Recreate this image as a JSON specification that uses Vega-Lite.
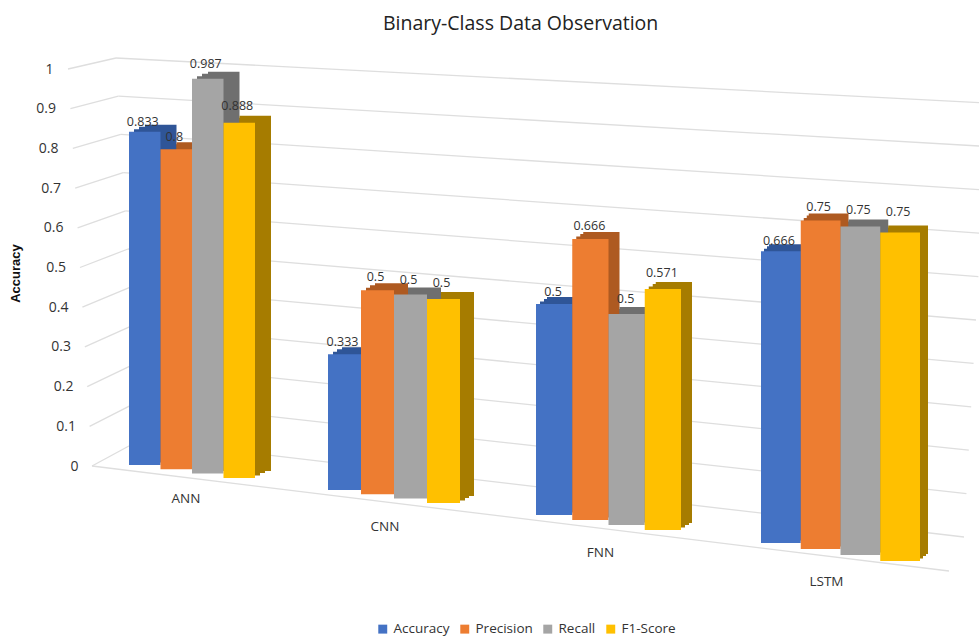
{"$schema":"https://vega.github.io/schema/vega-lite/v6.json","width":979,"height":640,"autosize":"none","padding":0,"background":"white",
"title":{"text":"Binary-Class Data Observation","font":"Open Sans","fontSize":19.5,"fontWeight":"normal","color":"#222222","anchor":"start","frame":"group","offset":-34,"dx":383},
"config":{"view":{"stroke":null},"font":"Open Sans"},
"datasets":{"scores":[
{"model":"ANN","metric":"Accuracy","value":0.833},{"model":"ANN","metric":"Precision","value":0.8},{"model":"ANN","metric":"Recall","value":0.987},{"model":"ANN","metric":"F1-Score","value":0.888},
{"model":"CNN","metric":"Accuracy","value":0.333},{"model":"CNN","metric":"Precision","value":0.5},{"model":"CNN","metric":"Recall","value":0.5},{"model":"CNN","metric":"F1-Score","value":0.5},
{"model":"FNN","metric":"Accuracy","value":0.5},{"model":"FNN","metric":"Precision","value":0.666},{"model":"FNN","metric":"Recall","value":0.5},{"model":"FNN","metric":"F1-Score","value":0.571},
{"model":"LSTM","metric":"Accuracy","value":0.666},{"model":"LSTM","metric":"Precision","value":0.75},{"model":"LSTM","metric":"Recall","value":0.75},{"model":"LSTM","metric":"F1-Score","value":0.75}],
"levels":[{"level":0},{"level":0.1},{"level":0.2},{"level":0.3},{"level":0.4},{"level":0.5},{"level":0.6},{"level":0.7},{"level":0.8},{"level":0.9},{"level":1}]},
"data":{"name":"scores"},
"layer":[
{"data":{"name":"levels"},"mark":{"type":"rule","color":"#dedede","strokeWidth":1.3,"xOffset":{"expr":"(1-datum.level)*24"},"x2Offset":{"expr":"-(1-datum.level)*24"},"y2Offset":{"expr":"45+(1-datum.level)*52"}},
 "encoding":{"x":{"datum":0,"type":"quantitative","axis":null,"scale":{"domain":[0,1],"range":[116,988]}},"x2":{"datum":1},
 "y":{"field":"level","type":"quantitative","axis":null,"scale":{"domain":[0,1],"range":[440,58]}},"y2":{"field":"level"}}},
{"data":{"name":"levels"},"mark":{"type":"rule","color":"#dedede","strokeWidth":1.3,"xOffset":{"expr":"(1-datum.level)*24"},"x2Offset":{"expr":"(1-datum.level)*24"},"y2Offset":{"expr":"-(11+(1-datum.level)*15)"}},
 "encoding":{"x":{"datum":0,"type":"quantitative","axis":null,"scale":{"domain":[0,1],"range":[68,116]}},"x2":{"datum":1},
 "y":{"field":"level","type":"quantitative","axis":{"orient":"left","offset":-82,"domain":false,"ticks":false,"grid":false,"values":[0,0.1,0.2,0.3,0.4,0.5,0.6,0.7,0.8,0.9,1],"format":"~g","labelFontSize":14,"labelColor":"#333333","labelPadding":4,"title":"Accuracy","titleFontSize":13,"titleFontWeight":"bold","titleColor":"#111111","titleFont":"Liberation Sans","titleX":-60,"titleY":273,"labelFont":"Open Sans","encoding":{"labels":{"dx":{"value":{"expr":"-25*datum.value"}}}}},"scale":{"domain":[0,1],"range":[466,69]}},"y2":{"field":"level"}}},
{"data":{"values":[{"level":0}]},"mark":{"type":"rule","color":"#dedede","strokeWidth":1.3,"y2Offset":105},
 "encoding":{"x":{"datum":0,"type":"quantitative","axis":null,"scale":{"domain":[0,1],"range":[92,949]}},"x2":{"datum":1},
 "y":{"field":"level","type":"quantitative","axis":null,"scale":{"domain":[0,1],"range":[466,69]}},"y2":{"field":"level"}}},
{"transform":[{"filter":"datum.model==='ANN'"}],
 "encoding":{"x":{"field":"metric","type":"nominal","axis":null,"scale":{"domain":["Accuracy","Precision","Recall","F1-Score"],"range":[129,255],"paddingInner":0,"paddingOuter":0}},
 "y":{"field":"value","type":"quantitative","axis":null,"stack":null,"scale":{"domain":[0,1],"range":[465,65]}},"y2":{"datum":0}},
 "layer":[
 {"mark":{"type":"bar","xOffset":5,"x2Offset":5,"yOffset":{"expr":"indexof(['Accuracy','Precision','Recall','F1-Score'],datum.metric)*4.3-2.5"},"y2Offset":{"expr":"indexof(['Accuracy','Precision','Recall','F1-Score'],datum.metric)*4.3-2.5"},"color":{"expr":"{'Accuracy':'#2f5597','Precision':'#ae5a21','Recall':'#6f6f6f','F1-Score':'#a67c00'}[datum.metric]"}}},
 {"mark":{"type":"bar","xOffset":10,"x2Offset":10,"yOffset":{"expr":"indexof(['Accuracy','Precision','Recall','F1-Score'],datum.metric)*4.3-5"},"y2Offset":{"expr":"indexof(['Accuracy','Precision','Recall','F1-Score'],datum.metric)*4.3-5"},"color":{"expr":"{'Accuracy':'#2f5597','Precision':'#ae5a21','Recall':'#6f6f6f','F1-Score':'#a67c00'}[datum.metric]"}}},
 {"mark":{"type":"bar","xOffset":16,"x2Offset":16,"yOffset":{"expr":"indexof(['Accuracy','Precision','Recall','F1-Score'],datum.metric)*4.3-7"},"y2Offset":{"expr":"indexof(['Accuracy','Precision','Recall','F1-Score'],datum.metric)*4.3-7"},"color":{"expr":"{'Accuracy':'#2f5597','Precision':'#ae5a21','Recall':'#6f6f6f','F1-Score':'#a67c00'}[datum.metric]"}}},
 {"mark":{"type":"bar","yOffset":{"expr":"indexof(['Accuracy','Precision','Recall','F1-Score'],datum.metric)*4.3"},"y2Offset":{"expr":"indexof(['Accuracy','Precision','Recall','F1-Score'],datum.metric)*4.3"}},"encoding":{"color":{"field":"metric","type":"nominal","scale":{"domain":["Accuracy","Precision","Recall","F1-Score"],"range":["#4472c4","#ed7d31","#a5a5a5","#ffc000"]},"legend":{"orient":"none","legendX":376,"legendY":622,"direction":"horizontal","title":null,"symbolType":"square","symbolSize":80,"symbolStrokeWidth":0,"labelFontSize":13.5,"labelColor":"#333333","columnPadding":8,"labelFont":"Open Sans"}}}},
 {"mark":{"type":"text","fontSize":12.5,"color":"#333333","dx":-2,"yOffset":{"expr":"indexof(['Accuracy','Precision','Recall','F1-Score'],datum.metric)*2-10"}},"encoding":{"y2":null,"text":{"field":"value","type":"quantitative"}}},
 {"mark":{"type":"text","fontSize":13.5,"color":"#333333","dx":-6},"transform":[{"filter":"datum.metric==='Recall'"}],"encoding":{"x":{"field":"metric","type":"nominal","bandPosition":0},"y":{"datum":-0.085},"y2":null,"text":{"field":"model","type":"nominal"}}}
 ]},
{"transform":[{"filter":"datum.model==='CNN'"}],
 "encoding":{"x":{"field":"metric","type":"nominal","axis":null,"scale":{"domain":["Accuracy","Precision","Recall","F1-Score"],"range":[328,460],"paddingInner":0,"paddingOuter":0}},
 "y":{"field":"value","type":"quantitative","axis":null,"stack":null,"scale":{"domain":[0,1],"range":[490,82]}},"y2":{"datum":0}},
 "layer":[
 {"mark":{"type":"bar","xOffset":5,"x2Offset":5,"yOffset":{"expr":"indexof(['Accuracy','Precision','Recall','F1-Score'],datum.metric)*4.3-2.5"},"y2Offset":{"expr":"indexof(['Accuracy','Precision','Recall','F1-Score'],datum.metric)*4.3-2.5"},"color":{"expr":"{'Accuracy':'#2f5597','Precision':'#ae5a21','Recall':'#6f6f6f','F1-Score':'#a67c00'}[datum.metric]"}}},
 {"mark":{"type":"bar","xOffset":9,"x2Offset":9,"yOffset":{"expr":"indexof(['Accuracy','Precision','Recall','F1-Score'],datum.metric)*4.3-5"},"y2Offset":{"expr":"indexof(['Accuracy','Precision','Recall','F1-Score'],datum.metric)*4.3-5"},"color":{"expr":"{'Accuracy':'#2f5597','Precision':'#ae5a21','Recall':'#6f6f6f','F1-Score':'#a67c00'}[datum.metric]"}}},
 {"mark":{"type":"bar","xOffset":14,"x2Offset":14,"yOffset":{"expr":"indexof(['Accuracy','Precision','Recall','F1-Score'],datum.metric)*4.3-7"},"y2Offset":{"expr":"indexof(['Accuracy','Precision','Recall','F1-Score'],datum.metric)*4.3-7"},"color":{"expr":"{'Accuracy':'#2f5597','Precision':'#ae5a21','Recall':'#6f6f6f','F1-Score':'#a67c00'}[datum.metric]"}}},
 {"mark":{"type":"bar","yOffset":{"expr":"indexof(['Accuracy','Precision','Recall','F1-Score'],datum.metric)*4.3"},"y2Offset":{"expr":"indexof(['Accuracy','Precision','Recall','F1-Score'],datum.metric)*4.3"}},"encoding":{"color":{"field":"metric","type":"nominal"}}},
 {"mark":{"type":"text","fontSize":12.5,"color":"#333333","dx":-2,"yOffset":{"expr":"indexof(['Accuracy','Precision','Recall','F1-Score'],datum.metric)*3-12"}},"encoding":{"y2":null,"text":{"field":"value","type":"quantitative"}}},
 {"mark":{"type":"text","fontSize":13.5,"color":"#333333","dx":-9},"transform":[{"filter":"datum.metric==='Recall'"}],"encoding":{"x":{"field":"metric","type":"nominal","bandPosition":0},"y":{"datum":-0.09},"y2":null,"text":{"field":"model","type":"nominal"}}}
 ]},
{"transform":[{"filter":"datum.model==='FNN'"}],
 "encoding":{"x":{"field":"metric","type":"nominal","axis":null,"scale":{"domain":["Accuracy","Precision","Recall","F1-Score"],"range":[536,681],"paddingInner":0,"paddingOuter":0}},
 "y":{"field":"value","type":"quantitative","axis":null,"stack":null,"scale":{"domain":[0,1],"range":[515,93]}},"y2":{"datum":0}},
 "layer":[
 {"mark":{"type":"bar","xOffset":4,"x2Offset":4,"yOffset":{"expr":"indexof(['Accuracy','Precision','Recall','F1-Score'],datum.metric)*5-2.5"},"y2Offset":{"expr":"indexof(['Accuracy','Precision','Recall','F1-Score'],datum.metric)*5-2.5"},"color":{"expr":"{'Accuracy':'#2f5597','Precision':'#ae5a21','Recall':'#6f6f6f','F1-Score':'#a67c00'}[datum.metric]"}}},
 {"mark":{"type":"bar","xOffset":8,"x2Offset":8,"yOffset":{"expr":"indexof(['Accuracy','Precision','Recall','F1-Score'],datum.metric)*5-5"},"y2Offset":{"expr":"indexof(['Accuracy','Precision','Recall','F1-Score'],datum.metric)*5-5"},"color":{"expr":"{'Accuracy':'#2f5597','Precision':'#ae5a21','Recall':'#6f6f6f','F1-Score':'#a67c00'}[datum.metric]"}}},
 {"mark":{"type":"bar","xOffset":11,"x2Offset":11,"yOffset":{"expr":"indexof(['Accuracy','Precision','Recall','F1-Score'],datum.metric)*5-7"},"y2Offset":{"expr":"indexof(['Accuracy','Precision','Recall','F1-Score'],datum.metric)*5-7"},"color":{"expr":"{'Accuracy':'#2f5597','Precision':'#ae5a21','Recall':'#6f6f6f','F1-Score':'#a67c00'}[datum.metric]"}}},
 {"mark":{"type":"bar","yOffset":{"expr":"indexof(['Accuracy','Precision','Recall','F1-Score'],datum.metric)*5"},"y2Offset":{"expr":"indexof(['Accuracy','Precision','Recall','F1-Score'],datum.metric)*5"}},"encoding":{"color":{"field":"metric","type":"nominal"}}},
 {"mark":{"type":"text","fontSize":12.5,"color":"#333333","dx":-1,"yOffset":{"expr":"indexof(['Accuracy','Precision','Recall','F1-Score'],datum.metric)*3.7-12"}},"encoding":{"y2":null,"text":{"field":"value","type":"quantitative"}}},
 {"mark":{"type":"text","fontSize":13.5,"color":"#333333","dx":-8},"transform":[{"filter":"datum.metric==='Recall'"}],"encoding":{"x":{"field":"metric","type":"nominal","bandPosition":0},"y":{"datum":-0.09},"y2":null,"text":{"field":"model","type":"nominal"}}}
 ]},
{"transform":[{"filter":"datum.model==='LSTM'"}],
 "encoding":{"x":{"field":"metric","type":"nominal","axis":null,"scale":{"domain":["Accuracy","Precision","Recall","F1-Score"],"range":[761,920],"paddingInner":0,"paddingOuter":0}},
 "y":{"field":"value","type":"quantitative","axis":null,"stack":null,"scale":{"domain":[0,1],"range":[543,105]}},"y2":{"datum":0}},
 "layer":[
 {"mark":{"type":"bar","xOffset":3,"x2Offset":3,"yOffset":{"expr":"indexof(['Accuracy','Precision','Recall','F1-Score'],datum.metric)*6-2.5"},"y2Offset":{"expr":"indexof(['Accuracy','Precision','Recall','F1-Score'],datum.metric)*6-2.5"},"color":{"expr":"{'Accuracy':'#2f5597','Precision':'#ae5a21','Recall':'#6f6f6f','F1-Score':'#a67c00'}[datum.metric]"}}},
 {"mark":{"type":"bar","xOffset":6,"x2Offset":6,"yOffset":{"expr":"indexof(['Accuracy','Precision','Recall','F1-Score'],datum.metric)*6-5"},"y2Offset":{"expr":"indexof(['Accuracy','Precision','Recall','F1-Score'],datum.metric)*6-5"},"color":{"expr":"{'Accuracy':'#2f5597','Precision':'#ae5a21','Recall':'#6f6f6f','F1-Score':'#a67c00'}[datum.metric]"}}},
 {"mark":{"type":"bar","xOffset":8,"x2Offset":8,"yOffset":{"expr":"indexof(['Accuracy','Precision','Recall','F1-Score'],datum.metric)*6-7"},"y2Offset":{"expr":"indexof(['Accuracy','Precision','Recall','F1-Score'],datum.metric)*6-7"},"color":{"expr":"{'Accuracy':'#2f5597','Precision':'#ae5a21','Recall':'#6f6f6f','F1-Score':'#a67c00'}[datum.metric]"}}},
 {"mark":{"type":"bar","yOffset":{"expr":"indexof(['Accuracy','Precision','Recall','F1-Score'],datum.metric)*6"},"y2Offset":{"expr":"indexof(['Accuracy','Precision','Recall','F1-Score'],datum.metric)*6"}},"encoding":{"color":{"field":"metric","type":"nominal"}}},
 {"mark":{"type":"text","fontSize":12.5,"color":"#333333","dx":-2,"yOffset":{"expr":"indexof(['Accuracy','Precision','Recall','F1-Score'],datum.metric)*2.5-10"}},"encoding":{"y2":null,"text":{"field":"value","type":"quantitative"}}},
 {"mark":{"type":"text","fontSize":13.5,"color":"#333333","dx":-14},"transform":[{"filter":"datum.metric==='Recall'"}],"encoding":{"x":{"field":"metric","type":"nominal","bandPosition":0},"y":{"datum":-0.09},"y2":null,"text":{"field":"model","type":"nominal"}}}
 ]}
],
"resolve":{"scale":{"x":"independent","y":"independent","color":"shared"}}}
